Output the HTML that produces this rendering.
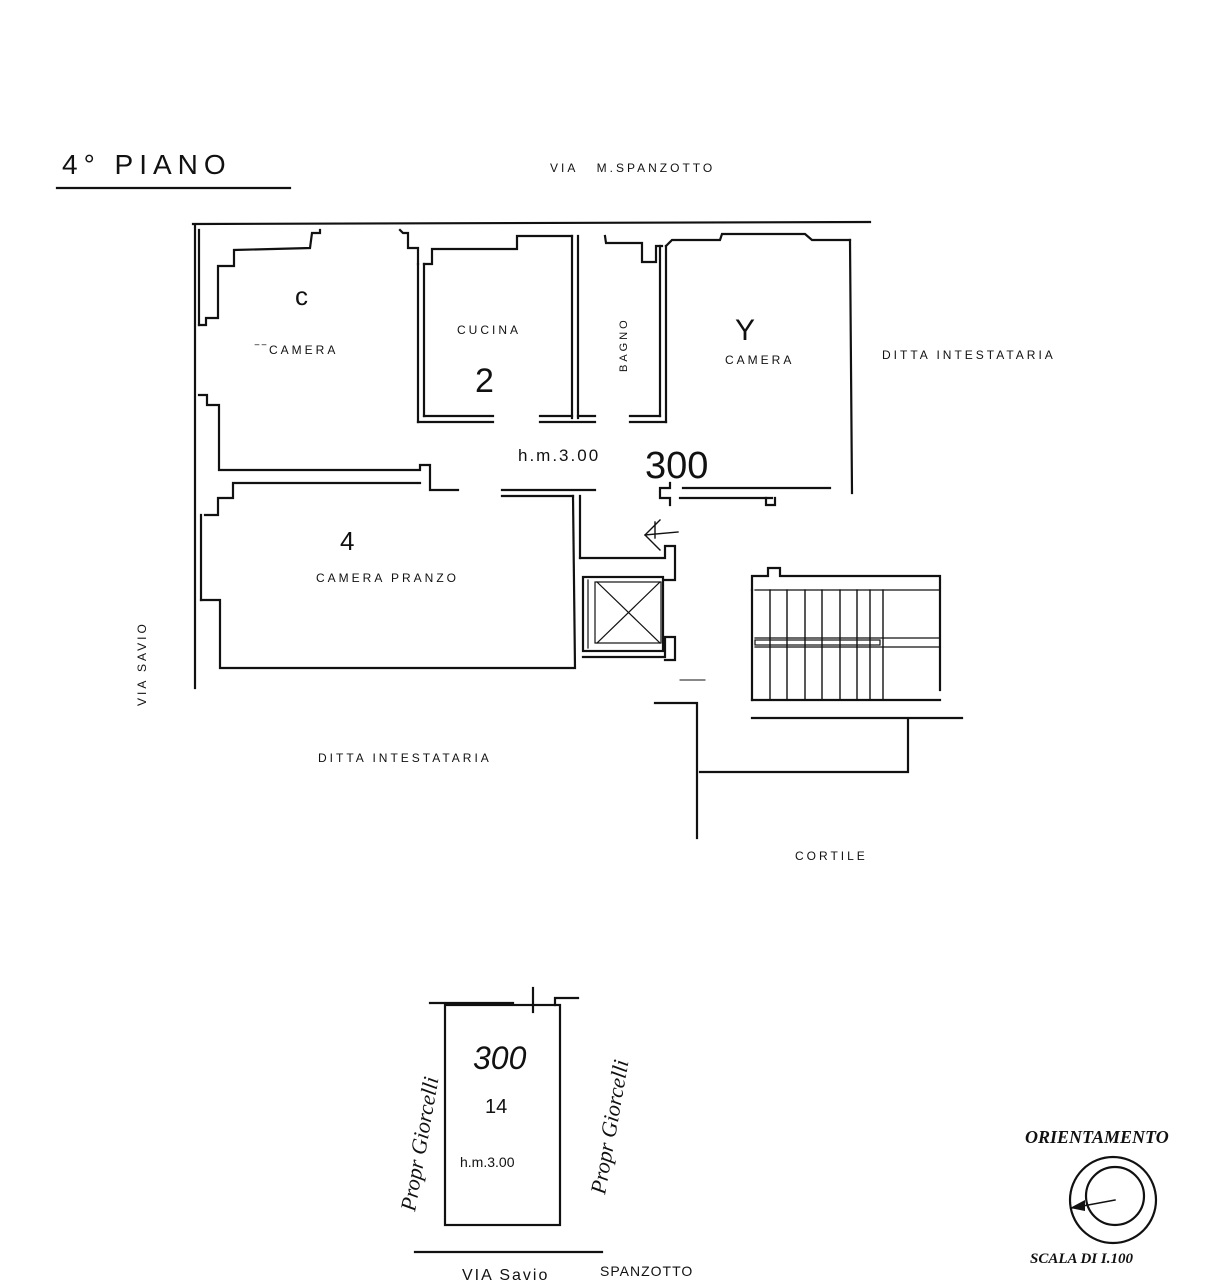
<!DOCTYPE html>
<html><head><meta charset="utf-8"><style>
body{margin:0;background:#fff}
svg{display:block}
text{fill:#111}
.s{font-family:"Liberation Sans",sans-serif}
.h{font-family:"Liberation Sans",sans-serif;letter-spacing:3px;font-size:12px}
</style></head><body>
<svg width="1217" height="1280" viewBox="0 0 1217 1280" xmlns="http://www.w3.org/2000/svg">
<g fill="none" stroke="#111" stroke-width="2.2" stroke-linecap="square">
<line x1="193" y1="224" x2="870" y2="222"/>
<line x1="195" y1="226" x2="195" y2="688"/><line x1="199" y1="230" x2="199" y2="325"/>
<polyline points="199,325 206,325 206,318 218,318 218,266 234,266 234,250 310,248 312,233 320,233 320,230"/>
<polyline points="199,395 207,395 207,405 219,405 219,470 420,470 420,465 430,465 430,490 458,490"/>
<polyline points="400,230 403,233 408,233 408,248 418,248 418,264"/>
<line x1="418" y1="264" x2="418" y2="422"/><line x1="424" y1="264" x2="424" y2="416"/>
<polyline points="424,264 432,264 432,249 517,249 517,236 572,236"/>
<line x1="572" y1="236" x2="572" y2="418"/><line x1="578" y1="236" x2="578" y2="418"/>
<line x1="418" y1="422" x2="493" y2="422"/><line x1="424" y1="416" x2="493" y2="416"/>
<line x1="540" y1="416" x2="572" y2="416"/><line x1="540" y1="422" x2="595" y2="422"/>
<line x1="578" y1="416" x2="595" y2="416"/>
<polyline points="605,236 606,243 642,243 642,262 656,262 656,246 662,246"/>
<line x1="660" y1="246" x2="660" y2="416"/><line x1="666" y1="246" x2="666" y2="422"/>
<line x1="630" y1="416" x2="660" y2="416"/><line x1="630" y1="422" x2="666" y2="422"/>
<polyline points="666,246 672,240 720,240 722,234 805,234 812,240 850,240"/>
<line x1="850" y1="240" x2="852" y2="493"/>
<line x1="683" y1="488" x2="830" y2="488"/><line x1="680" y1="498" x2="772" y2="498"/>
<polyline points="670,483 670,488 660,488 660,498 670,498 670,505"/>
<polyline points="766,498 766,505 775,505 775,498"/>
<polyline points="205,515 218,515 218,498 233,498 233,483 420,483"/>
<line x1="201" y1="515" x2="201" y2="600"/>
<polyline points="201,600 220,600 220,668 573,668"/>
<line x1="502" y1="490" x2="595" y2="490"/><line x1="502" y1="496" x2="573" y2="496"/>
<line x1="573" y1="496" x2="575" y2="668"/><line x1="580" y1="496" x2="580" y2="558"/>
<polyline points="580,558 665,558 665,546 675,546 675,580 665,580"/>
<rect x="583" y="577" width="80" height="74"/>
<line x1="588" y1="580" x2="588" y2="648" stroke-width="1.2"/>
<line x1="597" y1="582" x2="660" y2="643" stroke-width="1.2"/>
<line x1="660" y1="582" x2="597" y2="643" stroke-width="1.2"/>
<rect x="595" y="582" width="66" height="61" stroke-width="1.2"/>
<polyline points="583,657 665,657 665,637 675,637 675,660 665,660"/>
<polyline points="645,535 678,532" stroke-width="1.4"/>
<polyline points="660,520 645,535 660,550" stroke-width="1.4"/>
<line x1="655" y1="522" x2="655" y2="538" stroke-width="1.4"/>
<polyline points="752,590 752,576 768,576 768,568 780,568 780,576 940,576 940,690"/>
<line x1="752" y1="590" x2="752" y2="700"/>
<line x1="752" y1="700" x2="940" y2="700"/>
<line x1="752" y1="718" x2="962" y2="718"/>
<line x1="755" y1="590" x2="940" y2="590" stroke-width="1.2"/>
<line x1="755" y1="638" x2="940" y2="638" stroke-width="1.2"/>
<line x1="755" y1="647" x2="940" y2="647" stroke-width="1.2"/>
<rect x="755" y="640" width="125" height="5" stroke-width="1.2"/>
<g stroke-width="1.4">
<line x1="770" y1="590" x2="770" y2="700"/><line x1="787" y1="590" x2="787" y2="700"/>
<line x1="805" y1="590" x2="805" y2="700"/><line x1="822" y1="590" x2="822" y2="700"/>
<line x1="840" y1="590" x2="840" y2="700"/><line x1="857" y1="590" x2="857" y2="700"/>
<line x1="870" y1="590" x2="870" y2="700"/><line x1="883" y1="590" x2="883" y2="700"/>
</g>
<polyline points="908,720 908,772 700,772"/>
<polyline points="655,703 697,703 697,838"/>
<line x1="680" y1="680" x2="705" y2="680" stroke-width="1"/>
<line x1="57" y1="188" x2="290" y2="188"/>
<line x1="430" y1="1003" x2="513" y2="1003"/>
<rect x="445" y="1005" width="115" height="220"/>
<polyline points="555,1005 555,998 578,998"/>
<line x1="533" y1="988" x2="533" y2="1012"/>
<line x1="415" y1="1252" x2="602" y2="1252"/>
<circle cx="1113" cy="1200" r="43"/>
<circle cx="1115" cy="1196" r="29"/>
<line x1="1072" y1="1208" x2="1115" y2="1200" stroke-width="1.5"/>
</g>
<polygon points="1070,1208 1085,1200 1085,1211" fill="#111"/>
<text class="s" x="62" y="174" font-size="28" letter-spacing="6">4° PIANO</text>
<text x="550" y="172" class="h">VIA &#160;&#160;M.SPANZOTTO</text>
<text x="255" y="354" class="h">‾‾CAMERA</text>
<text x="457" y="334" class="h">CUCINA</text>
<text x="725" y="364" class="h">CAMERA</text>
<text x="882" y="359" class="h">DITTA INTESTATARIA</text>
<text x="316" y="582" class="h">CAMERA PRANZO</text>
<text x="318" y="762" class="h">DITTA INTESTATARIA</text>
<text x="795" y="860" class="h">CORTILE</text>
<text class="s" x="518" y="461" font-size="17" letter-spacing="2">h.m.3.00</text>
<text class="s" x="645" y="478" font-size="38">300</text>
<text class="s" x="295" y="305" font-size="26">c</text>
<text class="s" x="475" y="392" font-size="34">2</text>
<text class="s" x="735" y="340" font-size="30">Y</text>
<text class="s" x="340" y="550" font-size="26">4</text>
<text transform="translate(627,372) rotate(-90)" style="font-family:'Liberation Sans',sans-serif;font-size:11px;letter-spacing:3px">BAGNO</text>
<text transform="translate(146,706) rotate(-90)" class="h">VIA SAVIO</text>
<text class="s" x="473" y="1069" font-size="32" font-style="italic">300</text>
<text class="s" x="485" y="1113" font-size="20">14</text>
<text class="s" x="460" y="1167" font-size="14">h.m.3.00</text>
<text transform="translate(415,1212) rotate(-80)" style="font-family:'Liberation Serif',serif;font-size:22px;font-style:italic">Propr Giorcelli</text>
<text transform="translate(605,1195) rotate(-80)" style="font-family:'Liberation Serif',serif;font-size:22px;font-style:italic">Propr Giorcelli</text>
<text class="s" x="462" y="1280" font-size="16" letter-spacing="2">VIA Savio</text>
<text class="s" x="600" y="1276" font-size="14" fill="#777" letter-spacing="1">SPANZOTTO</text>
<text x="1025" y="1143" style="font-family:'Liberation Serif',serif;font-size:18px;font-weight:bold;font-style:italic">ORIENTAMENTO</text>
<text x="1030" y="1263" style="font-family:'Liberation Serif',serif;font-size:15px;font-weight:bold;font-style:italic">SCALA DI I.100</text>
</svg>
</body></html>
